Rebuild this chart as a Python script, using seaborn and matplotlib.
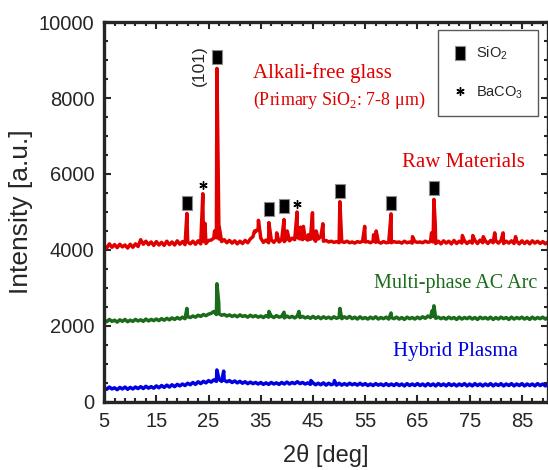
import numpy as np
import pandas as pd
import seaborn as sns
import matplotlib.pyplot as plt
from matplotlib.lines import Line2D

# ---------- data ----------
# scans sampled on a 0.5 deg grid, sharp reflections added on top
grid_2theta = np.arange(5.0, 90.01, 0.5)

raw_base = [
    4120, 4050, 4160, 4070, 4140, 4060, 4150, 4080, 4130, 4050,
    4150, 4070, 4160, 4090, 4270, 4150, 4230, 4140, 4210, 4120,
    4220, 4130, 4200, 4120, 4230, 4140, 4210, 4130, 4240, 4150,
    4220, 4140, 4210, 4160, 4230, 4150, 4240, 4160, 4220, 4170,
    4250, 4260, 4310, 4320, 4290, 4220, 4270, 4190, 4250, 4180,
    4240, 4160, 4230, 4170, 4250, 4190, 4290, 4350, 4480, 4560,
    4310, 4200, 4260, 4190, 4270, 4200, 4280, 4210, 4270, 4220,
    4300, 4240, 4310, 4270, 4330, 4290, 4270, 4310, 4260, 4280,
    4320, 4230, 4290, 4350, 4230, 4250, 4210, 4230, 4200, 4220,
    4190, 4220, 4200, 4230, 4190, 4210, 4180, 4220, 4200, 4230,
    4210, 4220, 4190, 4230, 4200, 4210, 4180, 4220, 4190, 4200,
    4190, 4220, 4200, 4210, 4180, 4230, 4190, 4210, 4180, 4220,
    4200, 4210, 4190, 4230, 4200, 4220, 4210, 4170, 4230, 4160,
    4240, 4180, 4230, 4160, 4250, 4170, 4230, 4180, 4240, 4170,
    4230, 4180, 4250, 4170, 4260, 4190, 4240, 4170, 4250, 4190,
    4240, 4180, 4250, 4170, 4230, 4180, 4240, 4170, 4230, 4160,
    4240, 4170, 4230, 4160, 4240, 4180, 4230, 4170, 4220, 4160,
    4210,
]
raw_peak_2theta = [20.85, 23.9, 24.3, 26.15, 26.6, 27.05, 33.8, 34.55, 36.55, 38.05,
                   39.45, 40.05, 41.95, 42.6, 43.15, 44.1, 44.9, 45.6, 46.9, 50.15,
                   54.9, 56.6, 57.1, 59.95, 64.05, 67.7, 68.15, 68.4, 73.6, 75.6,
                   77.6, 79.8, 81.4, 83.8]
raw_peak_counts = [4960, 5480, 4700, 4500, 8780, 4600, 4500, 4780, 4720, 4450,
                   4800, 4500, 5000, 4600, 4620, 4400, 4980, 4500, 4690, 5270,
                   4620, 4400, 4500, 4950, 4350, 4450, 5330, 4700, 4380, 4380,
                   4350, 4450, 4450, 4350]

arc_base = [
    2160, 2110, 2170, 2120, 2150, 2100, 2160, 2120, 2170, 2110,
    2150, 2120, 2170, 2130, 2160, 2120, 2180, 2130, 2170, 2140,
    2180, 2140, 2190, 2150, 2200, 2160, 2210, 2170, 2220, 2180,
    2230, 2190, 2240, 2220, 2260, 2230, 2280, 2250, 2300, 2270,
    2310, 2330, 2380, 2300, 2320, 2280, 2300, 2260, 2290, 2250,
    2280, 2240, 2290, 2250, 2270, 2230, 2280, 2240, 2270, 2230,
    2260, 2220, 2270, 2230, 2260, 2220, 2270, 2230, 2250, 2210,
    2260, 2220, 2250, 2210, 2260, 2220, 2250, 2210, 2240, 2200,
    2250, 2200, 2240, 2190, 2240, 2200, 2230, 2190, 2240, 2200,
    2230, 2190, 2240, 2200, 2250, 2190, 2230, 2180, 2240, 2190,
    2220, 2180, 2230, 2190, 2240, 2180, 2220, 2190, 2230, 2180,
    2220, 2190, 2230, 2180, 2220, 2170, 2230, 2190, 2220, 2180,
    2230, 2190, 2240, 2200, 2260, 2220, 2250, 2200, 2230, 2190,
    2220, 2180, 2230, 2190, 2220, 2170, 2230, 2180, 2220, 2190,
    2230, 2180, 2220, 2170, 2230, 2190, 2220, 2180, 2230, 2170,
    2220, 2180, 2230, 2190, 2220, 2170, 2230, 2180, 2220, 2190,
    2230, 2180, 2220, 2170, 2230, 2180, 2220, 2190, 2230, 2180,
    2220,
]
arc_peak_2theta = [20.85, 26.6, 26.95, 36.55, 39.45, 42.3, 50.15, 59.95, 67.8, 68.15]
arc_peak_counts = [2460, 3110, 2600, 2380, 2360, 2380, 2460, 2340, 2400, 2530]

plasma_base = [
    380, 330, 390, 340, 370, 320, 380, 340, 390, 330,
    380, 340, 390, 350, 400, 350, 410, 360, 400, 360,
    420, 370, 430, 380, 440, 390, 450, 400, 460, 420,
    470, 430, 490, 450, 510, 460, 530, 480, 540, 500,
    560, 520, 580, 540, 590, 540, 570, 530, 560, 510,
    550, 500, 540, 490, 530, 480, 520, 480, 510, 470,
    510, 460, 500, 460, 510, 470, 500, 460, 510, 470,
    520, 470, 510, 480, 530, 480, 510, 470, 500, 460,
    500, 450, 490, 450, 500, 440, 490, 450, 480, 440,
    490, 440, 480, 440, 490, 450, 480, 440, 490, 440,
    480, 430, 470, 430, 480, 440, 470, 430, 480, 430,
    470, 430, 480, 430, 470, 420, 480, 430, 470, 430,
    480, 430, 470, 420, 480, 430, 470, 420, 480, 430,
    470, 420, 480, 430, 470, 420, 470, 430, 480, 420,
    470, 420, 480, 430, 470, 420, 470, 430, 480, 420,
    470, 430, 480, 420, 470, 430, 480, 420, 470, 430,
    480, 420, 470, 430, 470, 420, 480, 430, 470, 420,
    470,
]
plasma_peak_2theta = [26.6, 27.9, 44.6, 49.1]
plasma_peak_counts = [840, 810, 560, 560]

# phase markers above the raw-material reflections
sio2_2theta = [20.9, 26.6, 36.5, 39.4, 50.1, 59.9, 68.1]
sio2_mark = [5240, 9070, 5070, 5160, 5550, 5230, 5620]
baco3_2theta = [24.0, 42.0]
baco3_mark = [5710, 5210]

series_names = ['Raw Materials', 'Multi-phase AC Arc', 'Hybrid Plasma']
series_colors = ['#e00000', '#1a6b1a', '#0000e0']

# ---------- build long table ----------
frames = []
for name, base, px, py in zip(series_names,
                              [raw_base, arc_base, plasma_base],
                              [raw_peak_2theta, arc_peak_2theta, plasma_peak_2theta],
                              [raw_peak_counts, arc_peak_counts, plasma_peak_counts]):
    x = np.concatenate([grid_2theta, px])
    y = np.concatenate([base, py])
    order = np.argsort(x, kind='stable')
    frames.append(pd.DataFrame({'2theta': x[order], 'counts': y[order], 'sample': name}))
df = pd.concat(frames, ignore_index=True)

# ---------- figure ----------
sns.set_style('ticks')
plt.rcParams['font.family'] = ['Liberation Sans', 'DejaVu Sans']
plt.rcParams['mathtext.fontset'] = 'custom'
plt.rcParams['mathtext.rm'] = 'Liberation Serif'
plt.rcParams['mathtext.sf'] = 'Liberation Sans'

fig = plt.figure(figsize=(5.48, 4.70), dpi=100)
ax = fig.add_axes([0.19, 0.145, 0.81, 0.808])

sns.lineplot(data=df, x='2theta', y='counts', hue='sample', units='sample',
             estimator=None, sort=False, palette=dict(zip(series_names, series_colors)),
             lw=2.5, legend=False, ax=ax)

# phase markers
rect = [(-0.35, -0.5), (0.35, -0.5), (0.35, 0.5), (-0.35, 0.5), (-0.35, -0.5)]
ax.plot(sio2_2theta, sio2_mark, ls='none', marker=rect, ms=10, color='k',
        mec='0.55', mew=0.8)
ax.plot(baco3_2theta, baco3_mark, ls='none', marker=(6, 2, 0), ms=6, color='k', mew=1.0)

ax.text(23.3, 8850, '(101)', rotation=90, ha='center', va='center', fontsize=12.5)

serif = 'Liberation Serif'
ax.text(33.5, 8660, 'Alkali-free glass', color='#e00000', fontsize=15,
        family=serif, va='center')
ax.text(33.5, 7950, r'(Primary SiO$_2$: 7-8 μm)', color='#e00000', fontsize=13,
        family=serif, va='center')
ax.text(85.5, 6290, 'Raw Materials', color='#e00000', fontsize=15,
        family=serif, ha='right', va='center')
ax.text(88.0, 3105, 'Multi-phase AC Arc', color='#1a6b1a', fontsize=14.5,
        family=serif, ha='right', va='center')
ax.text(84.3, 1316, 'Hybrid Plasma', color='#0000e0', fontsize=15,
        family=serif, ha='right', va='center')

handles = [Line2D([], [], ls='none', marker=rect, ms=10, color='k', mec='0.55', mew=0.8),
           Line2D([], [], ls='none', marker=(6, 2, 0), ms=6, color='k', mew=1.0)]
leg = ax.legend(handles, [r'SiO$_\mathsf{2}$', r'BaCO$_\mathsf{3}$'],
                loc='upper right', bbox_to_anchor=(0.977, 0.979), borderaxespad=0,
                fontsize=10.5, frameon=True, fancybox=False, edgecolor='0.35',
                framealpha=1, handlelength=1.0, handletextpad=0.6,
                labelspacing=1.5, borderpad=1.0)
leg.get_frame().set_linewidth(1.0)

ax.set_xlim(5, 90)
ax.set_ylim(0, 10000)
ax.set_xticks(np.arange(5, 90, 10))
ax.set_xticks(np.arange(5, 90, 2), minor=True)
ax.set_yticks(np.arange(0, 10001, 2000))
ax.set_yticks(np.arange(0, 10001, 500), minor=True)
ax.tick_params(which='both', direction='in', top=True, right=True, width=1.5)
ax.tick_params(which='major', length=5, labelsize=14.5, pad=7)
ax.tick_params(which='minor', length=3)
for s in ax.spines.values():
    s.set_linewidth(2.4)

ax.set_xlabel('2θ [deg]', fontsize=17, labelpad=10)
ax.set_ylabel('Intensity [a.u.]', fontsize=19, labelpad=4)

fig.savefig('out.png', dpi=100)
